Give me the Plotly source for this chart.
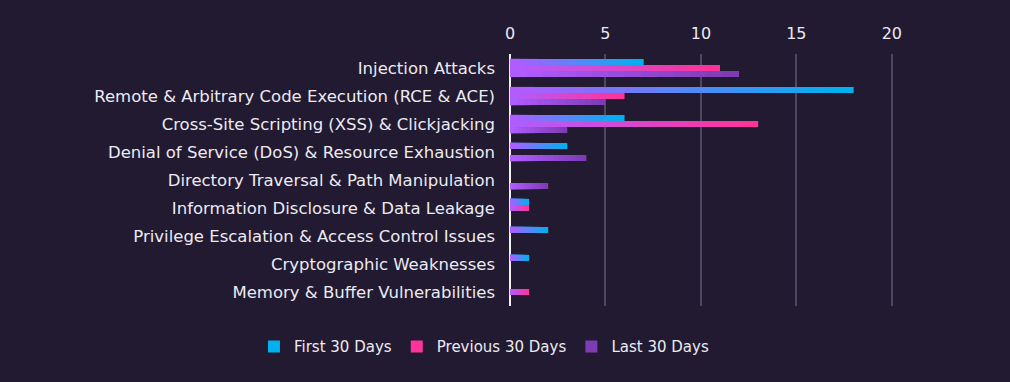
import plotly.graph_objects as go

categories = [
    "Injection Attacks",
    "Remote & Arbitrary Code Execution (RCE & ACE)",
    "Cross-Site Scripting (XSS) & Clickjacking",
    "Denial of Service (DoS) & Resource Exhaustion",
    "Directory Traversal & Path Manipulation",
    "Information Disclosure & Data Leakage",
    "Privilege Escalation & Access Control Issues",
    "Cryptographic Weaknesses",
    "Memory & Buffer Vulnerabilities",
]
first_30 = [7, 18, 6, 3, 0, 1, 2, 1, 0]
previous_30 = [11, 6, 13, 0, 0, 1, 0, 0, 1]
last_30 = [12, 5, 3, 4, 2, 0, 0, 0, 0]

series = [
    ("First 30 Days", first_30, (176, 92, 255), (0, 176, 240)),
    ("Previous 30 Days", previous_30, (176, 92, 255), (255, 51, 153)),
    ("Last 30 Days", last_30, (176, 92, 255), (125, 60, 180)),
]

BG = "#211a30"
TXT = "#eceaf2"
FONT = "'DejaVu Sans', sans-serif"
N = 14


def mix(a, b, t):
    return "rgb(%d,%d,%d)" % tuple(round(a[i] + (b[i] - a[i]) * t) for i in range(3))


fig = go.Figure()
for name, vals, c0, c1 in series:
    for i in range(N):
        frac = 1 - i / N
        t = 1 - i / (N - 1)
        fig.add_trace(go.Bar(
            y=categories,
            x=[v * frac for v in vals],
            orientation="h",
            name=name,
            legendgroup=name,
            showlegend=(i == 0),
            offsetgroup=name,
            marker=dict(color=mix(c0, c1, t), line=dict(width=0)),
            hoverinfo="skip" if i > 0 else None,
        ))

fig.update_layout(
    width=1010,
    height=382,
    paper_bgcolor=BG,
    plot_bgcolor=BG,
    barmode="group",
    bargap=0.35,
    bargroupgap=0,
    margin=dict(l=510, r=80, t=54, b=76),
    font=dict(family=FONT, color=TXT, size=15),
    legend=dict(
        orientation="h",
        xref="paper", yref="container",
        x=-0.062, xanchor="center",
        y=0.092, yanchor="middle",
        font=dict(size=15, color=TXT, family=FONT),
        itemwidth=30,
        traceorder="normal",
        bgcolor="rgba(0,0,0,0)",
    ),
    xaxis=dict(
        side="top",
        range=[0, 22],
        tickvals=[0, 5, 10, 15, 20],
        showgrid=True,
        gridcolor="#4d4762",
        gridwidth=1.5,
        zeroline=True,
        zerolinecolor="#f0f0f0",
        zerolinewidth=1.5,
        showline=False,
        ticks="",
        tickfont=dict(size=16, color=TXT, family=FONT),
        ticklabelstandoff=11,
    ),
    yaxis=dict(
        autorange="reversed",
        showgrid=False,
        showline=False,
        ticks="",
        tickfont=dict(size=16.5, color=TXT, family=FONT),
        ticklabelstandoff=14,
    ),
)

fig.write_html(
    "out.html",
    config={"displayModeBar": False},
    post_script="document.body.style.margin='0';document.body.style.background='%s';" % BG,
)
